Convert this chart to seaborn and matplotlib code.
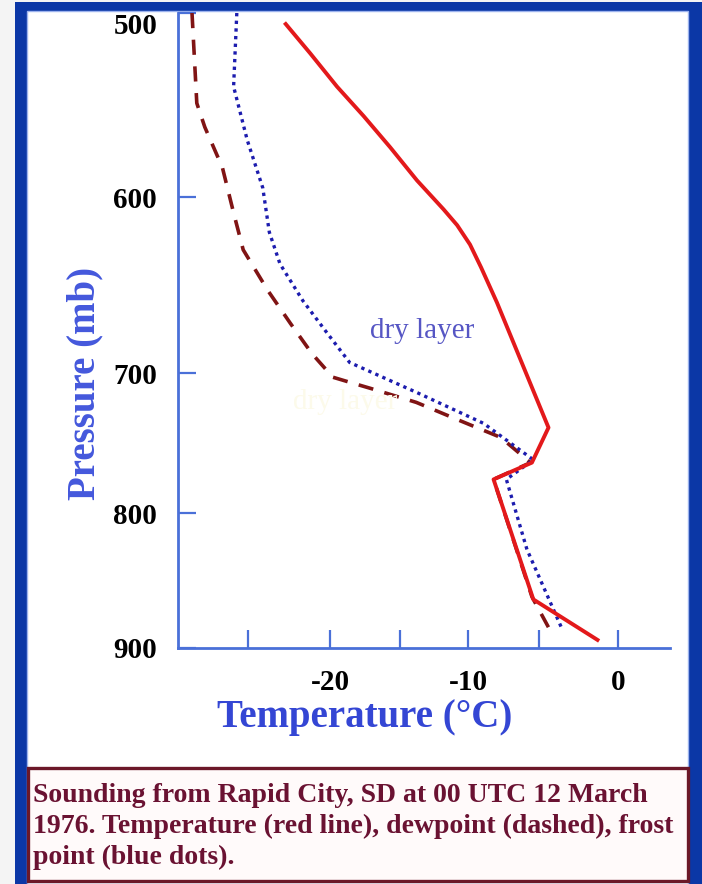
import numpy as np
import pandas as pd
import matplotlib
matplotlib.use("Agg")
import matplotlib.pyplot as plt
import seaborn as sns
from matplotlib.patches import Rectangle

# sounding values
temp_p = [506, 522, 540, 556, 573, 591, 607, 616, 627, 640, 660, 739, 764, 776, 864, 894]
temp_t = [-22.7, -21.2, -19.5, -17.6, -15.7, -13.75, -11.8, -10.8, -9.86, -9.08, -7.96, -4.4,
          -5.5, -8.2, -5.4, -1.3]

dew_p = [500, 549, 562, 584, 609, 630, 653, 672, 689, 703, 706, 711, 721, 734, 746, 764, 776, 862, 889]
dew_t = [-28.5, -28.2, -27.7, -26.6, -25.9, -25.3, -23.8, -22.4, -21.1, -19.8, -18.8, -17.1,
         -13.8, -10.6, -7.7, -5.6, -8.2, -5.5, -4.2]

frost_p = [500, 540, 569, 595, 620, 638, 659, 677, 694, 714, 736, 762, 776, 827, 887]
frost_t = [-25.7, -25.9, -25.05, -24.1, -23.7, -23.05, -21.65, -20.2, -18.6, -13.75, -8.9,
           -5.4, -7.3, -5.85, -3.5]

p_ticks = [500, 600, 700, 800, 900]
t_ticks = [-25, -20, -15, -10, -5, 0]
t_labels = ["", "-20", "", "-10", "", "0"]

caption = ["Sounding from Rapid City, SD at 00 UTC 12 March",
           "1976. Temperature (red line), dewpoint (dashed), frost",
           "point (blue dots)."]

# hand drawn axes: tick spacing is not quite even, map ticks to their drawn positions
x_anchor = [-40, -25, -20, -15, -10, -5, 0, 10]
x_pos = [8, 248, 330, 400, 468, 539, 618, 776]
y_anchor = [300, 500, 600, 700, 800, 900, 1100]
y_pos = [-355, 13, 197, 373, 513, 648, 918]

W, H = 702, 884
plt.rcParams["font.family"] = ["Liberation Serif", "DejaVu Serif"]

fig = plt.figure(figsize=(W / 100, H / 100), dpi=100)
fig.patch.set_facecolor("#f4f4f4")


def px_rect(x0, y0, x1, y1, **kw):
    r = Rectangle((x0 / W, 1 - y1 / H), (x1 - x0) / W, (y1 - y0) / H,
                  transform=fig.transFigure, **kw)
    fig.patches.append(r)
    return r


# blue frame, white panel, caption box
px_rect(15, 2, 702, 884, facecolor="#0b37a6", edgecolor="none", zorder=-3)
px_rect(27, 11, 688, 884, facecolor="white", edgecolor="#9db3ee", lw=1, zorder=-2)
px_rect(28, 768, 688, 881, facecolor="#fffafa", edgecolor="#6b1828", lw=2.4, zorder=-1)

ax = fig.add_axes([178 / W, 1 - 648 / H, (670 - 178) / W, (648 - 13) / H])
ax.set_zorder(1)
ax.patch.set_alpha(0)

ax.set_xscale("function", functions=(lambda v: np.interp(v, x_anchor, x_pos),
                                     lambda v: np.interp(v, x_pos, x_anchor)))
ax.set_yscale("function", functions=(lambda v: np.interp(v, y_anchor, y_pos),
                                     lambda v: np.interp(v, y_pos, y_anchor)))

temp = pd.DataFrame({"t": temp_t, "p": temp_p})
dew = pd.DataFrame({"t": dew_t, "p": dew_p})
frost = pd.DataFrame({"t": frost_t, "p": frost_p})

sns.lineplot(data=dew, x="t", y="p", sort=False, estimator=None, ax=ax,
             color="#801414", linewidth=2.6, linestyle=(0, (4.2, 3.2)))
sns.lineplot(data=frost, x="t", y="p", sort=False, estimator=None, ax=ax,
             color="#1c1cae", linewidth=2.4, linestyle=(0, (1, 1.3)))
sns.lineplot(data=temp, x="t", y="p", sort=False, estimator=None, ax=ax,
             color="#e3191b", linewidth=2.8)

ax.text(-18.9, 721, "dry layer", color="#fcfaea", fontsize=21, ha="center", va="center")
ax.text(-13.4, 676, "dry layer", color="#5656c4", fontsize=21, ha="center", va="center")

ax.set_xlim(-29.375, 3.29)
ax.set_ylim(900, 500)
ax.set_xticks(t_ticks)
ax.set_xticklabels(t_labels)
ax.set_yticks(p_ticks)
ax.set_yticklabels([str(p) for p in p_ticks])

spine_c = "#4a70d8"
for side in ["top", "right"]:
    ax.spines[side].set_visible(False)
for side in ["left", "bottom"]:
    ax.spines[side].set_color(spine_c)
    ax.spines[side].set_linewidth(2)
ax.tick_params(direction="in", length=13, width=1.6, color=spine_c,
               labelsize=21, pad=15)
for lab in ax.get_xticklabels() + ax.get_yticklabels():
    lab.set_fontweight("bold")
# the top label sits just under its tick in the original
ax.get_yticklabels()[0].set_va("top")

ax.set_xlabel("Temperature (°C)", fontsize=28, fontweight="bold", color="#3446d4")
ax.set_ylabel("Pressure (mb)", fontsize=28, fontweight="bold", color="#4458dc")
ax.xaxis.set_label_coords((365 - 178) / 492, (648 - 718) / 635)
ax.yaxis.set_label_coords((85 - 178) / 492, (648 - 383) / 635)
ax.xaxis.label.set_va("center")
ax.yaxis.label.set_va("center")

for i, line in enumerate(caption):
    fig.text(33 / W, 1 - (795 + 31 * i) / H, line, fontsize=20, fontweight="bold",
             color="#6a1232", ha="left", va="center")

fig.savefig("out.png", dpi=100)
